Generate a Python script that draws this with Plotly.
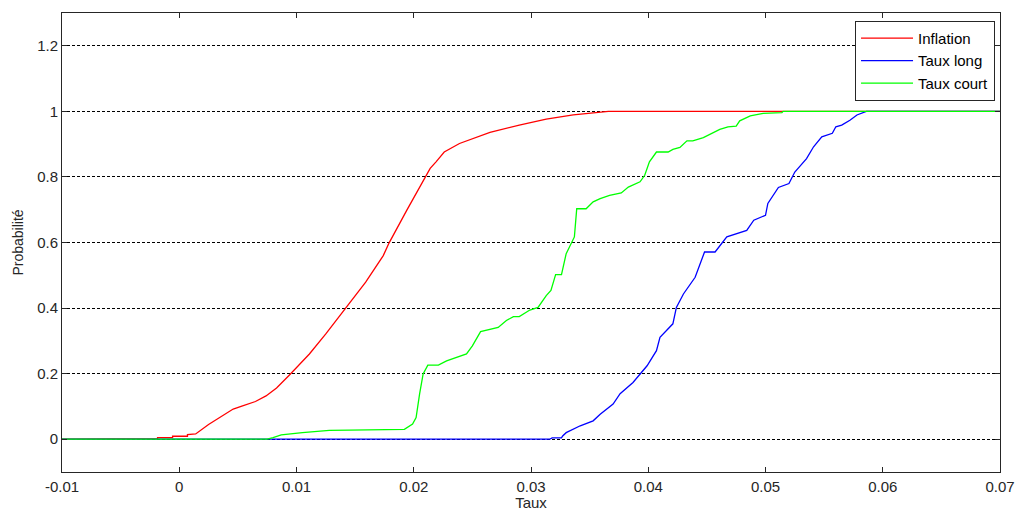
import plotly.graph_objects as go

# ---- data ----
inflation_x = [-0.01, -0.0029, -0.0029, -0.00185, -0.00185, -0.00057, -0.00057, 0.0007, 0.0007, 0.0014,
               0.0025, 0.0037, 0.0046, 0.0054, 0.0065, 0.0074, 0.0083, 0.0094, 0.0111, 0.0125,
               0.0142, 0.0159, 0.0174, 0.0179, 0.0194, 0.0208, 0.0214, 0.0219, 0.0226, 0.0239,
               0.0265, 0.029, 0.0313, 0.0336, 0.0353, 0.0366, 0.07]
inflation_y = [0, 0, 0.002, 0.002, 0.005, 0.005, 0.009, 0.009, 0.014, 0.016,
               0.045, 0.071, 0.092, 0.102, 0.115, 0.132, 0.156, 0.196, 0.26, 0.321,
               0.401, 0.479, 0.56, 0.599, 0.698, 0.79, 0.826, 0.846, 0.876, 0.902,
               0.936, 0.958, 0.976, 0.989, 0.994, 1.0, 1.0]

long_x = [-0.01, 0.0316, 0.0318, 0.0326, 0.0327, 0.033, 0.0342, 0.0353, 0.0359, 0.037, 0.0376,
          0.0387, 0.0399, 0.0407, 0.041, 0.0421, 0.0424, 0.043, 0.044, 0.0448, 0.0457,
          0.0467, 0.0484, 0.049, 0.05, 0.0502, 0.0511, 0.052, 0.0525, 0.0535, 0.0541,
          0.0548, 0.0557, 0.056, 0.0565, 0.0572, 0.0578, 0.0586, 0.07]
long_y = [0, 0, 0.004, 0.004, 0.01, 0.02, 0.041, 0.056, 0.076, 0.107, 0.139,
          0.173, 0.224, 0.27, 0.311, 0.352, 0.402, 0.443, 0.494, 0.571, 0.571,
          0.617, 0.637, 0.668, 0.683, 0.719, 0.768, 0.78, 0.815, 0.856, 0.892,
          0.922, 0.933, 0.953, 0.958, 0.973, 0.989, 1.0, 1.0]

court_x = [-0.01, 0.0075, 0.008, 0.0087, 0.0105, 0.0128, 0.0145, 0.0171, 0.0192, 0.0199,
           0.0202, 0.0205, 0.0208, 0.0212, 0.0221, 0.0228, 0.0238, 0.0245, 0.025, 0.0257,
           0.0272, 0.0279, 0.0285, 0.029, 0.0299, 0.0306, 0.0313, 0.0317, 0.0321, 0.0326,
           0.033, 0.0334, 0.0337, 0.0339, 0.0347, 0.0353, 0.0359, 0.0367, 0.0377, 0.0383,
           0.0393, 0.0397, 0.0401, 0.0407, 0.0417, 0.0421, 0.0427, 0.0433, 0.0438, 0.0447,
           0.0455, 0.0461, 0.0468, 0.0475, 0.0478, 0.0487, 0.0498, 0.0514, 0.0515, 0.07]
court_y = [0, 0, 0.005, 0.013, 0.02, 0.027, 0.028, 0.028, 0.03, 0.046,
           0.066, 0.138, 0.199, 0.226, 0.226, 0.239, 0.25, 0.26, 0.285, 0.328,
           0.341, 0.362, 0.374, 0.374, 0.394, 0.402, 0.438, 0.454, 0.502, 0.502,
           0.566, 0.596, 0.617, 0.703, 0.703, 0.724, 0.734, 0.744, 0.751, 0.769,
           0.785, 0.805, 0.846, 0.876, 0.876, 0.884, 0.89, 0.91, 0.91, 0.92,
           0.935, 0.945, 0.953, 0.955, 0.971, 0.986, 0.994, 0.996, 1.0, 1.0]

x_ticks = [-0.01, 0, 0.01, 0.02, 0.03, 0.04, 0.05, 0.06, 0.07]
x_tick_labels = ["-0.01", "0", "0.01", "0.02", "0.03", "0.04", "0.05", "0.06", "0.07"]
y_ticks = [0, 0.2, 0.4, 0.6, 0.8, 1.0, 1.2]
y_tick_labels = ["0", "0.2", "0.4", "0.6", "0.8", "1", "1.2"]

FONT = "Liberation Sans, Arial, sans-serif"
TXT = "#262626"

fig = go.Figure()
fig.add_trace(go.Scatter(x=inflation_x, y=inflation_y, mode="lines", name="Inflation",
                         legendgroup="a", line=dict(color="#ff0000", width=1.3)))
fig.add_trace(go.Scatter(x=long_x, y=long_y, mode="lines", name="Taux long",
                         legendgroup="b", line=dict(color="#0000ff", width=1.3)))
fig.add_trace(go.Scatter(x=court_x, y=court_y, mode="lines", name="Taux court",
                         legendgroup="c", line=dict(color="#00ff00", width=1.3)))

axis_common = dict(
    showline=True, linecolor=TXT, linewidth=1, mirror="ticks",
    ticks="inside", ticklen=5, tickcolor=TXT, tickwidth=1,
    zeroline=False, tickfont=dict(family=FONT, size=15, color=TXT),
)

fig.update_xaxes(
    range=[-0.01, 0.07], tickvals=x_ticks, ticktext=x_tick_labels,
    showgrid=False, ticklabelstandoff=1,
    title=dict(text="Taux", font=dict(family=FONT, size=15, color=TXT), standoff=4),
    **axis_common,
)
fig.update_yaxes(
    range=[-0.1, 1.3], tickvals=y_ticks, ticktext=y_tick_labels,
    showgrid=True, gridcolor="#000000", gridwidth=1, griddash="3px,2px",
    title=dict(text="Probabilité", font=dict(family=FONT, size=14, color=TXT), standoff=10),
    **axis_common,
)

fig.update_layout(
    width=1017, height=511,
    margin=dict(l=62, r=17, t=13, b=39, autoexpand=False),
    paper_bgcolor="white", plot_bgcolor="white",
    font=dict(family=FONT, size=15, color=TXT),
    showlegend=True,
    legend=dict(
        x=0.9947, y=0.983, xanchor="right", yanchor="top",
        bgcolor="white", bordercolor=TXT, borderwidth=1,
        font=dict(family=FONT, size=15, color="#000000"),
        itemwidth=52, tracegroupgap=0,
    ),
)

fig.write_html("out.html", config={"displayModeBar": False},
               post_script="document.body.style.margin='0';document.body.style.padding='0';")
